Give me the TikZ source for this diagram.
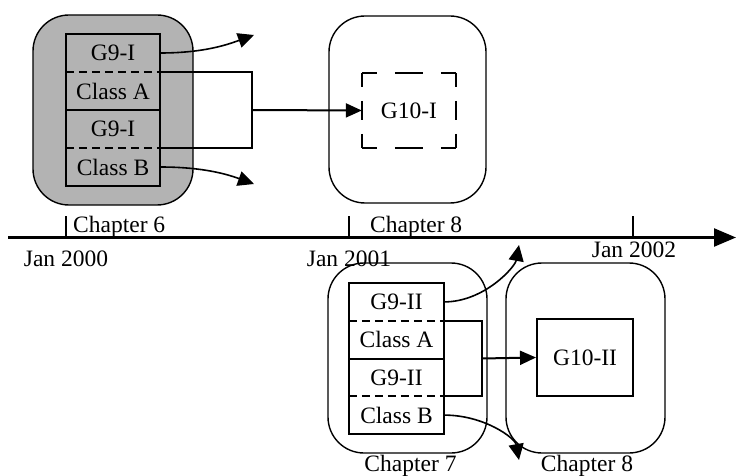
\documentclass[tikz,border=0pt]{standalone}
\usepackage{fontspec}
\setmainfont{Liberation Serif}
\usetikzlibrary{arrows.meta}
\definecolor{boxgray}{RGB}{179,179,179}
\begin{document}
\begin{tikzpicture}[x=1pt,y=-1pt,
  font=\fontsize{23.5}{28}\selectfont,
  chap/.style={draw=black,line width=1.4pt,rounded corners=36pt,inner sep=0pt},
  cell/.style={minimum width=94pt,minimum height=38pt,inner sep=0pt,anchor=center},
  frame/.style={draw=black,line width=2pt},
  sep/.style={line width=2pt,dash pattern=on 8pt off 5pt},
  link/.style={line width=2pt,line join=miter},
  curv/.style={line width=1.6pt,-{Triangle[length=16pt,width=15pt]}},
  lbl/.style={inner sep=0pt},
  tick/.style={line width=2pt},
]
\useasboundingbox (0,0) rectangle (736,476);

% ---------- top left: Chapter 6 ----------
\node[chap,fill=boxgray,minimum width=160pt,minimum height=190pt] (c6) at (113,110) {};
\node[cell] (a1) at (113,53) {G9-I};
\node[cell] (a2) at (113,91) {Class A};
\node[cell] (a3) at (113,129) {G9-I};
\node[cell] (a4) at (113,167) {Class B};
\draw[frame] (a1.north west) rectangle (a4.south east);
\draw[link] (a2.south west) -- (a2.south east);
\draw[sep] (a1.south west) -- (a1.south east);
\draw[sep] (a3.south west) -- (a3.south east);

% ---------- top middle: Chapter 8 ----------
\node[chap,minimum width=157pt,minimum height=187pt] (c8a) at (407.5,109.5) {};
\node[cell,minimum width=94pt,minimum height=75pt] (g10) at (409,110.5) {G10-I};
\draw[link,dash pattern=on 15pt off 18pt on 28pt off 18pt on 15pt] (g10.north west) -- (g10.north east);
\draw[link,dash pattern=on 15pt off 18pt on 28pt off 18pt on 15pt] (g10.south west) -- (g10.south east);
\draw[link,dash pattern=on 14pt off 14pt on 19pt off 14pt on 14pt] (g10.north west) -- (g10.south west);
\draw[link,dash pattern=on 14pt off 14pt on 19pt off 14pt on 14pt] (g10.north east) -- (g10.south east);

% bracket and arrow (top)
\coordinate (b1) at (252,110);
\draw[link] (a1.south east) -| (b1) |- (a3.south east);
\draw[link,-{Triangle[length=16pt,width=14pt]}] (b1) -- (g10.west);

% curved arrows (top)
\coordinate (t1) at (254,35);
\coordinate (t2) at (254,184);
\draw[curv] (a1.east) .. controls +(45,0) and +(-25,9) .. (t1);
\draw[curv] (a4.east) .. controls +(45,0) and +(-25,-9) .. (t2);

% ---------- timeline ----------
\coordinate (tl0) at (8,237.5);
\coordinate (tl1) at (736,237.5);
\draw[line width=2.3pt,-{Triangle[length=22pt,width=18pt]}] (tl0) -- (tl1);
\draw[tick] (66,216) -- (66,237.5);
\draw[tick] (349,216) -- (349,237.5);
\draw[tick] (633,216) -- (633,237.5);
\node[lbl,anchor=base west] (l6) at (73,232) {Chapter 6};
\node[lbl,anchor=base west] (l8a) at (370,232) {Chapter 8};
\node[lbl,anchor=base] (j0) at (66,266) {Jan 2000};
\node[lbl,anchor=base] (j1) at (349,266) {Jan 2001};
\node[lbl,anchor=base] (j2) at (634,257) {Jan 2002};

% ---------- bottom: Chapter 7 ----------
\node[chap,minimum width=159pt,minimum height=190pt] (c7) at (407.5,358) {};
\node[cell,minimum width=95pt,minimum height=37.75pt] (b1c) at (396.5,301.9) {G9-II};
\node[cell,minimum width=95pt,minimum height=37.75pt] (b2c) at (396.5,339.6) {Class A};
\node[cell,minimum width=95pt,minimum height=37.75pt] (b3c) at (396.5,377.4) {G9-II};
\node[cell,minimum width=95pt,minimum height=37.75pt] (b4c) at (396.5,415.1) {Class B};
\draw[frame] (b1c.north west) rectangle (b4c.south east);
\draw[link] (b2c.south west) -- (b2c.south east);
\draw[sep] (b1c.south west) -- (b1c.south east);
\draw[sep] (b3c.south west) -- (b3c.south east);

% ---------- bottom: Chapter 8 ----------
\node[chap,minimum width=159pt,minimum height=190pt] (c8b) at (585.5,358) {};
\node[cell,draw=black,line width=2pt,minimum width=96pt,minimum height=77pt] (g10b) at (585,357.5) {G10-II};

% bracket and arrow (bottom)
\coordinate (b2) at (482,358.5);
\draw[link] (b1c.south east) -| (b2) |- (b3c.south east);
\draw[link,-{Triangle[length=16pt,width=14pt]}] (b2) -- (g10b.west);

% curved arrows (bottom)
\coordinate (t3) at (519,245);
\coordinate (t4) at (519,460);
\draw[curv] (b1c.east) .. controls +(40,0) and +(-4,22) .. (t3);
\draw[curv] (b4c.east) .. controls +(40,0) and +(-4,-22) .. (t4);

\node[lbl,anchor=base] (l7) at (410.5,471) {Chapter 7};
\node[lbl,anchor=base] (l8b) at (587,471) {Chapter 8};
\end{tikzpicture}
\end{document}
